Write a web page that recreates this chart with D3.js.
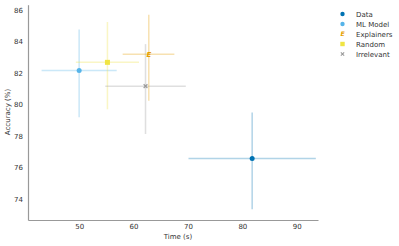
<!DOCTYPE html>
<html>
<head>
<meta charset="utf-8">
<script src="https://cdn.jsdelivr.net/npm/d3@7"></script>
<style>
  body { margin: 0; background: #fff; }
  text { font-family: "DejaVu Sans", sans-serif; }
</style>
</head>
<body>
<svg id="chart" width="399" height="246"></svg>
<script>
// groups shown in the legend
const groups = ['Data', 'ML Model', 'Explainers', 'Random', 'Irrelevant'];
const colors = ['#0072B2', '#56B4E9', '#E69F00', '#F0E442', '#999999'];
const markers = ['circle', 'circle', 'E', 'square', 'x'];

// mean time / accuracy and error bar extents
const timeMean = [81.8, 50.0, 62.8, 55.2, 62.2];
const timeLow = [70.1, 43.1, 58.0, 49.4, 54.8];
const timeHigh = [93.5, 56.9, 67.5, 61.0, 69.6];
const accMean = [76.58, 82.17, 83.19, 82.68, 81.17];
const accLow = [73.35, 79.19, 80.24, 79.7, 78.13];
const accHigh = [79.5, 84.77, 85.7, 85.24, 83.84];

const xTicks = [50, 60, 70, 80, 90];
const yTicks = [74, 76, 78, 80, 82, 84, 86];

const svg = d3.select('#chart');

const x = d3.scaleLinear().domain([40.6, 93.9]).range([28, 318]);
const y = d3.scaleLinear().domain([72.67, 86.34]).range([220, 4.7]);

// axes: just the spines and labels, no tick marks
const xAxis = svg.append('g')
  .attr('transform', 'translate(0,220)')
  .call(d3.axisBottom(x).tickValues(xTicks).tickSize(0).tickPadding(4));
const yAxis = svg.append('g')
  .attr('transform', 'translate(28,0)')
  .call(d3.axisLeft(y).tickValues(yTicks).tickSize(0).tickPadding(5));

[xAxis, yAxis].forEach(a => {
  a.select('.domain').attr('stroke', '#999').attr('stroke-width', 1.2);
  a.selectAll('text').attr('fill', '#333').style('font-size', '7px');
});

svg.append('text')
  .attr('x', 178).attr('y', 238.5)
  .attr('text-anchor', 'middle')
  .attr('fill', '#333')
  .style('font-size', '7px')
  .text('Time (s)');

svg.append('text')
  .attr('transform', 'translate(10,112) rotate(-90)')
  .attr('text-anchor', 'middle')
  .attr('fill', '#333')
  .style('font-size', '7px')
  .text('Accuracy (%)');

const rows = groups.map((g, i) => ({
  name: g, color: colors[i], marker: markers[i],
  t: timeMean[i], t0: timeLow[i], t1: timeHigh[i],
  a: accMean[i], a0: accLow[i], a1: accHigh[i]
}));

// draw in back-to-front order similar to the picture
const order = ['Data', 'ML Model', 'Random', 'Irrelevant', 'Explainers'];
const drawRows = order.map(n => rows.find(r => r.name === n));

const bars = svg.append('g');
drawRows.forEach(d => {
  bars.append('line')
    .attr('x1', x(d.t0)).attr('x2', x(d.t1))
    .attr('y1', y(d.a)).attr('y2', y(d.a))
    .attr('stroke', d.color).attr('stroke-width', 1.5).attr('opacity', 0.3);
  bars.append('line')
    .attr('x1', x(d.t)).attr('x2', x(d.t))
    .attr('y1', y(d.a0)).attr('y2', y(d.a1))
    .attr('stroke', d.color).attr('stroke-width', 1.5).attr('opacity', 0.3);
});

function drawMarker(g, kind, color, cx, cy, size) {
  if (kind === 'circle') {
    g.append('circle').attr('cx', cx).attr('cy', cy).attr('r', size).attr('fill', color);
  } else if (kind === 'square') {
    g.append('rect').attr('x', cx - size).attr('y', cy - size)
      .attr('width', size * 2).attr('height', size * 2).attr('fill', color);
  } else if (kind === 'x') {
    const s = size * 0.75;
    g.append('path')
      .attr('d', `M${cx - s},${cy - s}L${cx + s},${cy + s}M${cx - s},${cy + s}L${cx + s},${cy - s}`)
      .attr('stroke', color).attr('stroke-width', 1.1);
  } else {
    const fs = size * 2.8;
    g.append('text').attr('x', cx).attr('y', cy + fs * 0.36)
      .attr('text-anchor', 'middle')
      .attr('fill', color)
      .style('font-size', fs + 'px').style('font-weight', 'bold').style('font-style', 'italic')
      .text(kind);
  }
}

const pts = svg.append('g');
drawRows.forEach(d => drawMarker(pts, d.marker, d.color, x(d.t), y(d.a), 2.5));

// legend
const legend = svg.append('g');
rows.forEach((d, i) => {
  const ly = 14 + i * 10;
  drawMarker(legend, d.marker, d.color, 342.5, ly, 2.2);
  legend.append('text')
    .attr('x', 356).attr('y', ly + 2.5)
    .attr('fill', '#333')
    .style('font-size', '7px')
    .text(d.name);
});
</script>
</body>
</html>
